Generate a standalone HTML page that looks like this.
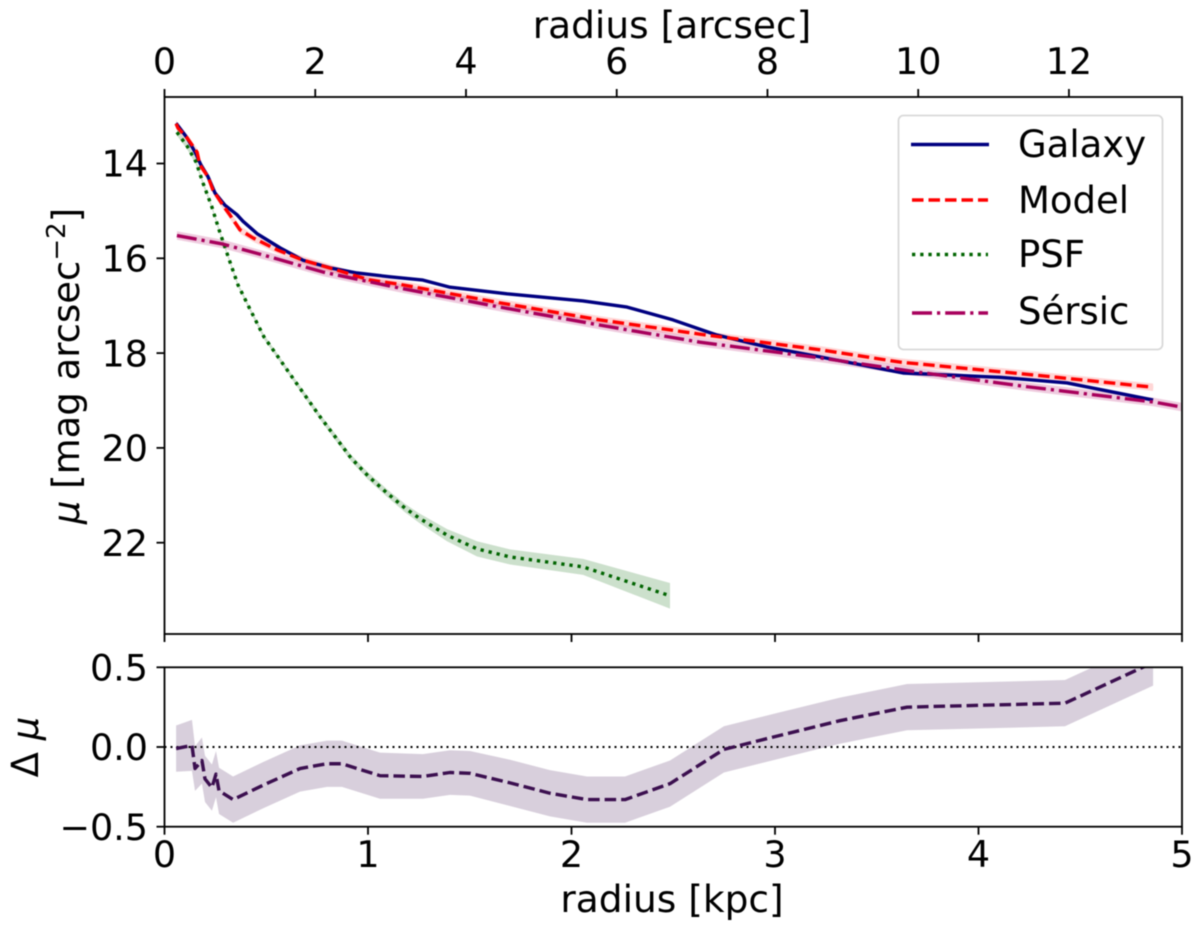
<!DOCTYPE html>
<html lang="en">
<head>
<meta charset="utf-8">
<title>Surface brightness profile</title>
<style>
html,body{margin:0;padding:0;background:#fff;}
body{width:1200px;height:930px;overflow:hidden;position:relative;}
svg{display:block;filter:blur(0.55px);}
text{font-family:"DejaVu Sans","Liberation Sans",sans-serif;fill:#000;}
</style>
</head>
<body>
<svg id="chart" xmlns="http://www.w3.org/2000/svg" width="1200" height="930" viewBox="0 0 1200 930"></svg>
<script>
// ---- data (radius in kpc, surface brightness in mag arcsec^-2) ----
const galaxyR = [0.057,0.111,0.150,0.179,0.214,0.248,0.297,0.356,0.386,0.455,0.568,0.681,0.813,0.946,1.108,1.270,1.403,1.683,2.057,2.273,2.499,2.715,2.961,3.221,3.629,4.106,4.435,4.858];
const galaxyMu = [13.15,13.46,13.76,14.03,14.28,14.62,14.88,15.08,15.22,15.48,15.78,16.04,16.20,16.31,16.39,16.46,16.61,16.75,16.90,17.03,17.30,17.62,17.87,18.08,18.42,18.51,18.63,18.99];
const modelR = [0.057,0.066,0.111,0.160,0.174,0.214,0.238,0.287,0.322,0.371,0.435,0.553,0.681,0.848,1.010,1.157,1.649,2.140,2.631,3.221,3.614,4.268,4.858];
const modelMu = [13.16,13.25,13.46,13.76,14.03,14.28,14.56,14.88,15.09,15.40,15.57,15.82,16.04,16.25,16.46,16.55,16.94,17.30,17.60,17.93,18.19,18.46,18.72];
const psfR = [0.061,0.111,0.155,0.189,0.233,0.268,0.322,0.361,0.415,0.489,0.558,0.631,0.700,0.769,0.843,0.916,1.0,1.093,1.182,1.251,1.388,1.536,1.698,2.057,2.484];
const psfMu = [13.34,13.63,13.97,14.41,14.92,15.40,16.08,16.56,17.03,17.66,18.08,18.53,18.95,19.37,19.79,20.21,20.59,20.95,21.27,21.48,21.84,22.13,22.30,22.51,23.12];
const psfErr = [0.07,0.07,0.06,0.05,0.04,0.04,0.04,0.04,0.04,0.05,0.05,0.05,0.06,0.06,0.07,0.07,0.08,0.08,0.09,0.10,0.13,0.16,0.16,0.17,0.27];
const sersicR = [0.061,0.125,0.287,0.518,0.779,1.157,1.649,2.140,2.631,3.221,3.700,4.240,4.858,5.0];
const sersicMu = [15.52,15.57,15.70,15.97,16.29,16.63,17.03,17.41,17.77,18.10,18.40,18.71,19.03,19.14];
const residR = [0.057,0.135,0.150,0.184,0.199,0.233,0.253,0.268,0.337,0.484,0.666,0.799,0.872,1.059,1.270,1.403,1.501,1.698,1.894,2.076,2.263,2.484,2.749,3.015,3.319,3.649,4.425,4.858];
const residMu = [-0.01,0.01,-0.135,-0.085,-0.20,-0.255,-0.17,-0.275,-0.33,-0.24,-0.135,-0.105,-0.105,-0.18,-0.185,-0.16,-0.165,-0.225,-0.29,-0.33,-0.33,-0.23,-0.015,0.07,0.165,0.25,0.275,0.53];
const residErr = [0.145,0.16,0.14,0.145,0.145,0.145,0.145,0.145,0.145,0.145,0.145,0.145,0.145,0.145,0.14,0.14,0.14,0.145,0.145,0.145,0.145,0.145,0.145,0.145,0.145,0.145,0.145,0.145];
const kpcTicks = [0,1,2,3,4,5];
const arcsecTicks = [0,2,4,6,8,10,12];
const muTicks = [14,16,18,20,22];
const residTicks = [0.5,0,-0.5];
const residTickLabels = ['0.5','0.0','\u22120.5'];

// ---- axis functions ----
const L = 164.5, R = 1182, T1 = 97, B1 = 634, T2 = 667.3, B2 = 826.7;
const xKpc = v => L + v * (R - L) / 5;
const xArc = v => L + v * (R - L) / 13.5;
const yMu = v => 163.5 + (v - 14) * 47.4;
const yRes = v => 747 - v * 159.4;

const svg = document.getElementById('chart');
const NS = 'http://www.w3.org/2000/svg';
function mk(tag, attrs, parent) {
  const e = document.createElementNS(NS, tag);
  for (const k in attrs) e.setAttribute(k, attrs[k]);
  (parent || svg).appendChild(e);
  return e;
}
function pts(xs, ys, fx, fy) {
  return xs.map((x, i) => fx(x).toFixed(2) + ',' + fy(ys[i]).toFixed(2)).join(' ');
}
function bandPts(xs, ys, err, fx, fy) {
  const up = xs.map((x, i) => fx(x).toFixed(2) + ',' + fy(ys[i] - err[i]).toFixed(2));
  const dn = xs.map((x, i) => fx(x).toFixed(2) + ',' + fy(ys[i] + err[i]).toFixed(2)).reverse();
  return up.concat(dn).join(' ');
}
const defs = mk('defs', {});
const c1 = mk('clipPath', {id: 'clip-main'}, defs);
mk('rect', {x: L, y: T1, width: R - L, height: B1 - T1}, c1);
const c2 = mk('clipPath', {id: 'clip-resid'}, defs);
mk('rect', {x: L, y: T2, width: R - L, height: B2 - T2}, c2);

const main = mk('g', {'clip-path': 'url(#clip-main)'});


const resid = mk('g', {'clip-path': 'url(#clip-resid)'});



// ---- main panel marks ----
const galBand = mk('polygon', {points: bandPts(galaxyR, galaxyMu, galaxyR.map(() => 0.03), xKpc, yMu), fill: '#000080', 'fill-opacity': 0.2}, main);


const modBand = mk('polygon', {points: bandPts(modelR, modelMu, modelR.map(() => 0.08), xKpc, yMu), fill: '#ff0000', 'fill-opacity': 0.16}, main);


const psfBand = mk('polygon', {points: bandPts(psfR, psfMu, psfErr, xKpc, yMu), fill: '#006400', 'fill-opacity': 0.2}, main);


const serBand = mk('polygon', {points: bandPts(sersicR, sersicMu, sersicR.map(() => 0.09), xKpc, yMu), fill: '#b0005f', 'fill-opacity': 0.2}, main);



const lineBase = {fill: 'none', 'stroke-width': 3.4, 'stroke-linejoin': 'round'};
const galLine = mk('polyline', Object.assign({points: pts(galaxyR, galaxyMu, xKpc, yMu), stroke: '#000080'}, lineBase), main);


const modLine = mk('polyline', Object.assign({points: pts(modelR, modelMu, xKpc, yMu), stroke: '#ff0000', 'stroke-dasharray': '11.5 5'}, lineBase), main);


const psfLine = mk('polyline', Object.assign({points: pts(psfR, psfMu, xKpc, yMu), stroke: '#006400', 'stroke-dasharray': '3.3 4.9'}, lineBase), main);


const serLine = mk('polyline', Object.assign({points: pts(sersicR, sersicMu, xKpc, yMu), stroke: '#a8005c', 'stroke-dasharray': '20 5 3.2 5'}, lineBase), main);



// ---- residual panel marks ----
const resBand = mk('polygon', {points: bandPts(residR, residMu, residErr, xKpc, yRes), fill: '#3b0f4f', 'fill-opacity': 0.2}, resid);


const zeroLine = mk('line', {x1: L, x2: R, y1: yRes(0), y2: yRes(0), stroke: '#000', 'stroke-width': 2, 'stroke-dasharray': '2 4'}, resid);


const resLine = mk('polyline', Object.assign({points: pts(residR, residMu, xKpc, yRes), stroke: '#3b0f4f', 'stroke-dasharray': '11.5 5'}, lineBase), resid);



// ---- frames ----
const frame1 = mk('rect', {x: L, y: T1, width: R - L, height: B1 - T1, fill: 'none', stroke: '#000', 'stroke-width': 1.8});


const frame2 = mk('rect', {x: L, y: T2, width: R - L, height: B2 - T2, fill: 'none', stroke: '#000', 'stroke-width': 1.8});



// ---- ticks ----
const TICK = 8, FS = 36.5;
function tickLine(x1, y1, x2, y2) {
  return mk('line', {x1: x1, y1: y1, x2: x2, y2: y2, stroke: '#000', 'stroke-width': 1.8});
}
function label(x, y, str, anchor) {
  const t = mk('text', {x: x, y: y, 'text-anchor': anchor, 'font-size': FS});
  t.textContent = str;
  return t;
}
arcsecTicks.forEach(v => {
  const tk = tickLine(xArc(v), T1, xArc(v), T1 - TICK);
  
  
  const lb = label(xArc(v), 74, String(v), 'middle');
  
  
});
muTicks.forEach(v => {
  const tk = tickLine(L, yMu(v), L - TICK, yMu(v));
  
  
  const lb = label(148, yMu(v) + 13.2, String(v), 'end');
  
  
});
kpcTicks.forEach(v => {
  const tk1 = tickLine(xKpc(v), B1, xKpc(v), B1 + TICK);
  
  
  const tk2 = tickLine(xKpc(v), B2, xKpc(v), B2 + TICK);
  
  
  const lb = label(xKpc(v), 867, String(v), 'middle');
  
  
});
residTicks.forEach((v, i) => {
  const tk = tickLine(L, yRes(v), L - TICK, yRes(v));
  
  
  const lb = label(148, yRes(v) + 13.2, residTickLabels[i], 'end');
  
  
});
</script>
<svg xmlns="http://www.w3.org/2000/svg" width="1200" height="930" viewBox="0 0 1200 930" style="position:absolute;left:0;top:0;">
  <text x="672" y="38" text-anchor="middle" font-size="37.5">radius [arcsec]</text>
  <text x="672" y="912" text-anchor="middle" font-size="37.5">radius [kpc]</text>
  <text transform="translate(79,366) rotate(-90)" text-anchor="middle" font-size="37"><tspan font-style="italic">μ</tspan> [mag arcsec<tspan dy="-14" font-size="26">−2</tspan><tspan dy="14">]</tspan></text>
  <text transform="translate(38,747) rotate(-90)" text-anchor="middle" font-size="37">Δ <tspan font-style="italic">μ</tspan></text>
  <g>
    <rect x="898.5" y="115.5" width="264" height="234" rx="5" fill="#fff" fill-opacity="0.85" stroke="#d9d9d9" stroke-width="1.8"/>
    <line x1="911" x2="989" y1="144.5" y2="144.5" stroke="#000080" stroke-width="3.4"/>
    <text x="1018" y="157" font-size="37">Galaxy</text>
    <line x1="912" x2="988" y1="200" y2="200" stroke="#ff0000" stroke-width="3.4" stroke-dasharray="11.5 5"/>
    <text x="1018" y="213" font-size="37">Model</text>
    <line x1="912" x2="988" y1="254.5" y2="254.5" stroke="#006400" stroke-width="3.4" stroke-dasharray="3.3 4.9"/>
    <text x="1018" y="267" font-size="37">PSF</text>
    <line x1="912" x2="988" y1="313" y2="313" stroke="#a8005c" stroke-width="3.4" stroke-dasharray="20 5 3.2 5"/>
    <text x="1018" y="324" font-size="37">Sérsic</text>
  </g>
</svg>
</body>
</html>
